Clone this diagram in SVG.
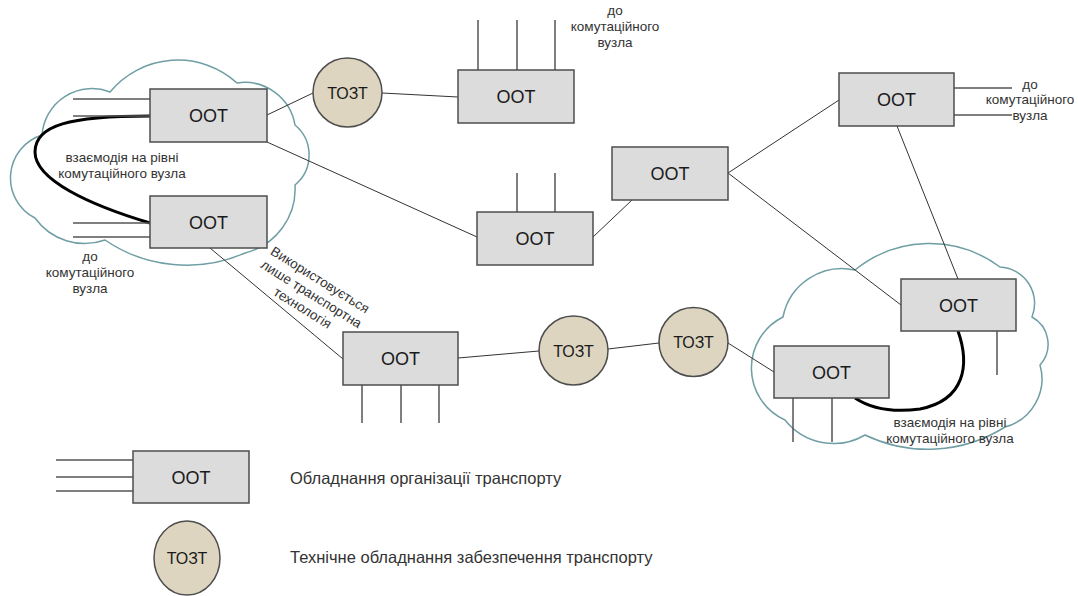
<svg xmlns="http://www.w3.org/2000/svg" width="1078" height="596" viewBox="0 0 1078 596">
<style>
.cloud{fill:#ffffff;stroke:#6f9ea5;stroke-width:1.5}
.box{fill:#dcdcdc;stroke:#4d4d4d;stroke-width:1.5}
.circ{fill:#ddd5c0;stroke:#4d4d4d;stroke-width:1.5}
.ln{stroke:#333;stroke-width:1;fill:none}
.stub{stroke:#555;stroke-width:1.5;fill:none}
.thick{stroke:#000;stroke-width:3;fill:none}
text{font-family:"Liberation Sans",Arial,sans-serif;fill:#1a1a1a}
.lbl{font-size:18px;text-anchor:middle}
.tz{font-size:16px;text-anchor:middle}
.sm{font-size:13.5px;text-anchor:middle;fill:#333}
.lg{font-size:16.5px;fill:#333}
</style>
<g id="clouds">
<path class="cloud" d="M42,135 A50,50 0 0 1 110,92 A88,88 0 0 1 237,83 A51,51 0 0 1 295,125 A39,39 0 0 1 295,185 A66,66 0 0 1 245,253 A145,145 0 0 1 105,240 A61,61 0 0 1 35,218 A45,45 0 0 1 42,135 Z"/>
<path class="cloud" d="M783,317 A60,60 0 0 1 855,270 A118,118 0 0 1 1000,267 A36.5,36.5 0 0 1 1032,317 A31,31 0 0 1 1040,365 A50,50 0 0 1 1005,427 A145,145 0 0 1 865,435 A62,62 0 0 1 785,420 A57,57 0 0 1 783,317 Z"/>
</g>
<g id="connectors">
<line class="ln" x1="267" y1="115" x2="313" y2="93"/>
<line class="ln" x1="382" y1="93" x2="458" y2="97"/>
<line class="ln" x1="267" y1="142" x2="477" y2="237"/>
<line class="ln" x1="593" y1="237" x2="632" y2="200"/>
<line class="ln" x1="728" y1="173" x2="839" y2="100"/>
<line class="ln" x1="728" y1="173" x2="901" y2="305"/>
<line class="ln" x1="897" y1="126" x2="958" y2="279"/>
<line class="ln" x1="210" y1="248" x2="343" y2="359"/>
<line class="ln" x1="458" y1="358" x2="539" y2="351"/>
<line class="ln" x1="608" y1="349" x2="659" y2="343"/>
<line class="ln" x1="728" y1="343" x2="774" y2="372"/>
<path class="thick" d="M150,116 C70,116 35,125 35,152 C35,180 90,205 150,223"/>
<path class="thick" d="M958,331 C970,365 965,400 920,409 C890,413 870,408 855,398"/>
</g>
<g id="stubs">
<line class="stub" x1="73" y1="99" x2="150" y2="99"/>
<line class="stub" x1="73" y1="116" x2="150" y2="116"/>
<line class="stub" x1="73" y1="223" x2="150" y2="223"/>
<line class="stub" x1="73" y1="237" x2="150" y2="237"/>
<line class="stub" x1="478" y1="20" x2="478" y2="70"/>
<line class="stub" x1="517" y1="20" x2="517" y2="70"/>
<line class="stub" x1="555" y1="20" x2="555" y2="70"/>
<line class="stub" x1="517" y1="173" x2="517" y2="212"/>
<line class="stub" x1="555" y1="173" x2="555" y2="212"/>
<line class="stub" x1="954" y1="88" x2="1012" y2="88"/>
<line class="stub" x1="954" y1="115" x2="1012" y2="115"/>
<line class="stub" x1="997" y1="331" x2="997" y2="375"/>
<line class="stub" x1="793" y1="398" x2="793" y2="442"/>
<line class="stub" x1="832" y1="398" x2="832" y2="442"/>
<line class="stub" x1="362" y1="385" x2="362" y2="423"/>
<line class="stub" x1="401" y1="385" x2="401" y2="423"/>
<line class="stub" x1="439" y1="385" x2="439" y2="423"/>
<line class="stub" x1="56" y1="460" x2="133" y2="460"/>
<line class="stub" x1="56" y1="477" x2="133" y2="477"/>
<line class="stub" x1="56" y1="491" x2="133" y2="491"/>
</g>
<g id="oot1"><rect class="box" x="150" y="89" width="117" height="53"/><text class="lbl" x="208.5" y="122">ООТ</text></g>
<g id="oot2"><rect class="box" x="150" y="196" width="117" height="52"/><text class="lbl" x="208.5" y="228.5">ООТ</text></g>
<g id="oot3"><rect class="box" x="458" y="70" width="116" height="53"/><text class="lbl" x="516" y="103">ООТ</text></g>
<g id="oot4"><rect class="box" x="477" y="212" width="116" height="53"/><text class="lbl" x="535" y="245">ООТ</text></g>
<g id="oot5"><rect class="box" x="612" y="147" width="116" height="53"/><text class="lbl" x="670" y="180">ООТ</text></g>
<g id="oot6"><rect class="box" x="839" y="73" width="115" height="53"/><text class="lbl" x="896.5" y="106">ООТ</text></g>
<g id="oot7"><rect class="box" x="901" y="279" width="115" height="52"/><text class="lbl" x="958.5" y="311.5">ООТ</text></g>
<g id="oot8"><rect class="box" x="774" y="346" width="115" height="52"/><text class="lbl" x="831.5" y="378.5">ООТ</text></g>
<g id="oot9"><rect class="box" x="343" y="332" width="115" height="53"/><text class="lbl" x="400.5" y="365">ООТ</text></g>
<g id="tozt1"><circle class="circ" cx="347.5" cy="92.5" r="34.5"/><text class="tz" x="347.5" y="98.5">ТОЗТ</text></g>
<g id="tozt2"><circle class="circ" cx="573.5" cy="350.5" r="34.5"/><text class="tz" x="573.5" y="356.5">ТОЗТ</text></g>
<g id="tozt3"><circle class="circ" cx="693.5" cy="342" r="34.5"/><text class="tz" x="693.5" y="348">ТОЗТ</text></g>
<g id="labels">
<text class="sm" x="122" y="162">взаємодія на рівні</text>
<text class="sm" x="122" y="178">комутаційного вузла</text>
<text class="sm" x="90" y="261">до</text>
<text class="sm" x="90" y="277">комутаційного</text>
<text class="sm" x="90" y="293">вузла</text>
<text class="sm" x="615" y="15">до</text>
<text class="sm" x="615" y="31">комутаційного</text>
<text class="sm" x="615" y="47">вузла</text>
<text class="sm" x="1030" y="89">до</text>
<text class="sm" x="1030" y="104">комутаційного</text>
<text class="sm" x="1030" y="120">вузла</text>
<text class="sm" x="950" y="427">взаємодія на рівні</text>
<text class="sm" x="950" y="443">комутаційного вузла</text>
<g transform="translate(320,280) rotate(32)">
<text class="sm" x="0" y="4.5">Використовується</text>
<text class="sm" x="0" y="21">лише транспортна</text>
<text class="sm" x="0" y="37.5">технологія</text>
</g>
</g>
<g id="legend-oot"><rect class="box" x="133" y="451" width="116" height="52"/><text class="lbl" x="191" y="483.5">ООТ</text><text class="lg" x="290" y="484">Обладнання організації транспорту</text></g>
<g id="legend-tozt"><ellipse class="circ" cx="187" cy="558" rx="33" ry="37"/><text class="tz" x="187" y="564">ТОЗТ</text><text class="lg" x="290" y="563">Технічне обладнання забезпечення транспорту</text></g>
</svg>
